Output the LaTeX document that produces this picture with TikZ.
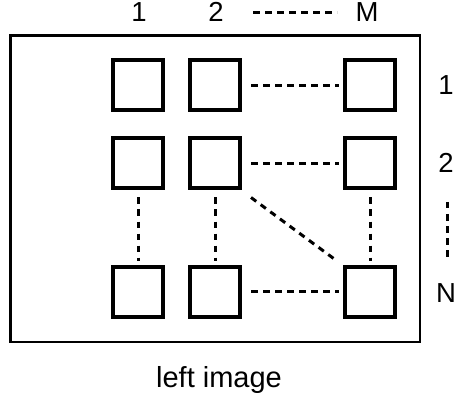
\documentclass[tikz,border=0pt]{standalone}
\usepackage{fontspec}
\setmainfont{Liberation Sans}
\begin{document}
\begin{tikzpicture}[x=1pt,y=-1pt,
  cell/.style={draw,line width=4pt,minimum size=50pt,inner sep=0pt,outer sep=0pt},
  dashline/.style={line width=3pt,dash pattern=on 6.5pt off 5.5pt},
  lab/.style={font=\fontsize{27.5}{29}\selectfont,inner sep=0pt,anchor=base},
  frame/.style={draw,line width=2.5pt}]
\useasboundingbox (0,0) rectangle (457,403);
\draw[frame] (10.5,35.5) rectangle (420,342);
% cells
\foreach \r/\y in {1/85.5,2/163.5,3/291.5}{
  \node[cell] (s\r1) at (138,\y) {};
  \node[cell] (s\r2) at (215,\y) {};
  \node[cell] (s\r3) at (370,\y) {};
}
% horizontal dashes
\foreach \r in {1,2,3}{
  \draw[dashline] ([xshift=11pt]s\r2.east) -- ([xshift=-6pt]s\r3.west);
}
% vertical dashes
\foreach \c in {1,2,3}{
  \draw[dashline] ([yshift=-9pt]s2\c.south) -- ([yshift=6pt]s3\c.north);
}
% diagonal
\draw[dashline] ([shift={(11pt,-9pt)}]s22.south east) -- ([shift={(-10pt,7pt)}]s33.north west);
% top labels
\node[lab] (c1) at (139,21.5) {1};
\node[lab] (c2) at (216,21.5) {2};
\node[lab] (cM) at (367,21.5) {M};
\coordinate (ta) at (253,13);
\coordinate (tb) at (337,13);
\draw[dashline] (ta) -- (tb);
% right labels
\node[lab] (r1) at (446,95) {1};
\node[lab] (r2) at (446,173) {2};
\node[lab] (rN) at (446,302) {N};
\coordinate (ra) at (447,202);
\coordinate (rb) at (447,258);
\draw[dashline] (ra) -- (rb);
% caption
\node[inner sep=0pt,anchor=base,font=\fontsize{29}{31}\selectfont] (cap) at (219,387) {left image};
\end{tikzpicture}
\end{document}
